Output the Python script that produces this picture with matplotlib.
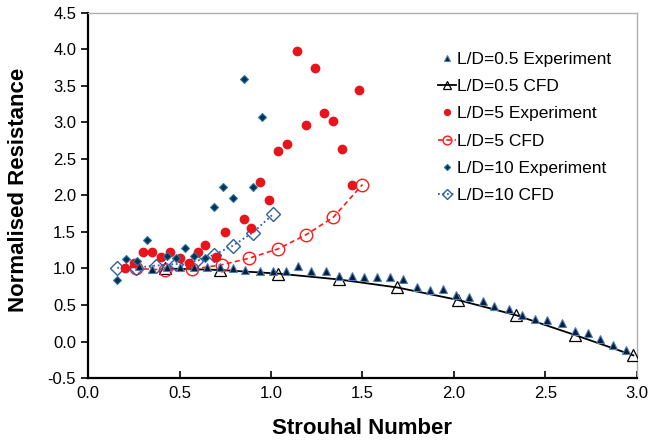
import matplotlib.pyplot as plt

plt.rcParams['font.family'] = ['Liberation Sans', 'DejaVu Sans']

# L/D = 0.5
st_05_exp = [0.28, 0.35, 0.43, 0.50, 0.58, 0.65, 0.72, 0.79, 0.86, 0.94, 1.01, 1.08,
             1.15, 1.22, 1.30, 1.37, 1.44, 1.51, 1.58, 1.65, 1.72, 1.80, 1.87, 1.94,
             2.01, 2.08, 2.16, 2.22, 2.30, 2.37, 2.44, 2.51, 2.59, 2.66, 2.73, 2.80,
             2.87, 2.94]
r_05_exp = [1.03, 0.99, 1.02, 1.02, 1.02, 1.02, 1.02, 1.01, 0.98, 0.97, 0.97, 0.96,
            1.04, 0.96, 0.96, 0.90, 0.90, 0.89, 0.89, 0.88, 0.85, 0.75, 0.70, 0.72,
            0.64, 0.61, 0.56, 0.48, 0.44, 0.36, 0.31, 0.29, 0.25, 0.15, 0.12, 0.03,
            -0.05, -0.12]
st_05_cfd = [0.42, 0.72, 1.04, 1.37, 1.69, 2.02, 2.34, 2.66, 2.98]
r_05_cfd = [1.00, 0.98, 0.93, 0.85, 0.74, 0.57, 0.36, 0.09, -0.19]

# L/D = 5
st_5_exp = [0.20, 0.25, 0.30, 0.35, 0.40, 0.45, 0.50, 0.55, 0.60, 0.64, 0.70, 0.75,
            0.85, 0.89, 0.94, 0.99, 1.04, 1.09, 1.14, 1.19, 1.24, 1.29, 1.34, 1.39,
            1.44, 1.48]
r_5_exp = [1.01, 1.07, 1.23, 1.23, 1.16, 1.23, 1.15, 1.08, 1.23, 1.32, 1.16, 1.50,
           1.68, 1.55, 2.19, 1.94, 2.61, 2.70, 3.98, 2.96, 3.75, 3.13, 3.02, 2.64,
           2.14, 3.44]
st_5_cfd = [0.26, 0.42, 0.57, 0.73, 0.88, 1.04, 1.19, 1.34, 1.50]
r_5_cfd = [1.00, 0.98, 0.99, 1.05, 1.14, 1.27, 1.46, 1.70, 2.15]

# L/D = 10
st_10_exp = [0.16, 0.21, 0.27, 0.32, 0.43, 0.48, 0.53, 0.58, 0.64, 0.69, 0.74, 0.79,
             0.85, 0.90, 0.95]
r_10_exp = [0.84, 1.13, 1.10, 1.39, 1.17, 1.15, 1.28, 1.17, 1.15, 1.84, 2.11, 1.97,
            3.59, 2.12, 3.07]
st_10_cfd = [0.16, 0.26, 0.37, 0.48, 0.59, 0.69, 0.79, 0.90, 1.01]
r_10_cfd = [1.01, 1.01, 1.04, 1.06, 1.10, 1.19, 1.31, 1.49, 1.74]

fig = plt.figure(figsize=(6.49, 4.40), dpi=100)
ax = fig.add_axes([0.1356, 0.1409, 0.8459, 0.8296])

ax.plot(st_05_exp, r_05_exp, ls='none', marker='^', ms=5.5, mfc='#0d1a30',
        mec='#4a80c4', mew=0.8, label='L/D=0.5 Experiment', zorder=4)
ax.plot(st_05_cfd, r_05_cfd, color='black', lw=1.3, marker='^', ms=9, mfc='none',
        mec='black', mew=0.9, label='L/D=0.5 CFD', zorder=3)
ax.plot(st_5_exp, r_5_exp, ls='none', marker='o', ms=6, mfc='#e8141b', mec='#e8141b',
        label='L/D=5 Experiment', zorder=4)
ax.plot(st_5_cfd, r_5_cfd, color='#ff1a1a', ls=(0, (3, 2)), lw=1.2, marker='o', ms=9,
        mfc='none', mec='#ff1a1a', mew=1.0, label='L/D=5 CFD', zorder=3)
ax.plot(st_10_exp, r_10_exp, ls='none', marker='D', ms=4.5, mfc='#0a3050', mec='#2a78a8',
        mew=0.8, label='L/D=10 Experiment', zorder=4)
ax.plot(st_10_cfd, r_10_cfd, color='#2e5fa8', ls=(0, (1, 1.5)), lw=1.3, marker='D', ms=7,
        mfc='none', mec='#2e5fa8', mew=1.0, label='L/D=10 CFD', zorder=3)

ax.set_xlim(0, 3.0)
ax.set_ylim(-0.5, 4.5)
ax.set_xticks([0.0, 0.5, 1.0, 1.5, 2.0, 2.5, 3.0])
ax.set_yticks([-0.5, 0.0, 0.5, 1.0, 1.5, 2.0, 2.5, 3.0, 3.5, 4.0, 4.5])
ax.xaxis.set_major_formatter(plt.FormatStrFormatter('%.1f'))
ax.yaxis.set_major_formatter(plt.FormatStrFormatter('%.1f'))
ax.tick_params(axis='x', direction='in', length=5, width=1.2, labelsize=12, pad=6)
ax.tick_params(axis='y', direction='out', length=5, width=1.2, labelsize=12)

for side in ('left', 'bottom'):
    ax.spines[side].set_linewidth(1.6)
    ax.spines[side].set_color('black')
for side in ('top', 'right'):
    ax.spines[side].set_linewidth(1.0)
    ax.spines[side].set_color('#b0b0b0')

ax.set_xlabel('Strouhal Number', fontsize=16, fontweight='bold', labelpad=12)
ax.set_ylabel('Normalised Resistance', fontsize=16, fontweight='bold', labelpad=6)
ax.yaxis.set_label_coords(-0.108, 0.515)

leg = ax.legend(loc='upper left', bbox_to_anchor=(0.638, 0.894), frameon=False,
                fontsize=12.5, handlelength=1.0, handletextpad=0.1, labelspacing=0.7,
                markerscale=0.7, borderpad=0, borderaxespad=0)

fig.savefig('out.png', dpi=100)
